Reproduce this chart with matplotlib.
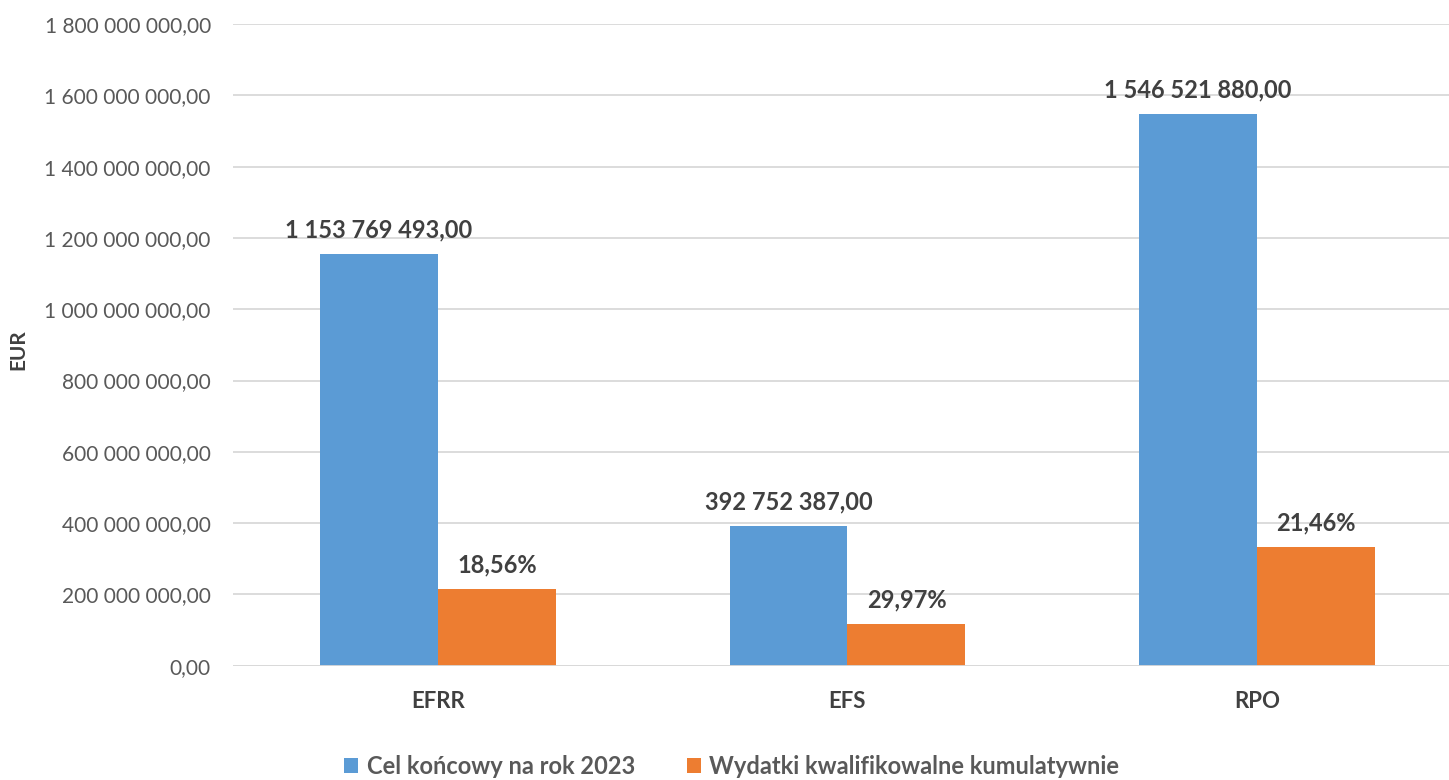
import matplotlib
matplotlib.use("Agg")
import matplotlib.pyplot as plt
import numpy as np

categories = ["EFRR", "EFS", "RPO"]
target_2023 = [1153769493.00, 392752387.00, 1546521880.00]
expenditure = [214000000, 117700000, 331900000]
pct_labels = ["18,56%", "29,97%", "21,46%"]
series_names = ["Cel końcowy na rok 2023", "Wydatki kwalifikowalne kumulatywnie"]
yticks = [0, 200e6, 400e6, 600e6, 800e6, 1000e6, 1200e6, 1400e6, 1600e6, 1800e6]

plt.rcParams['font.family'] = ['Lato', 'DejaVu Sans']

blue = "#5B9BD5"
orange = "#ED7D31"
txt = "#595959"
lbl = "#404040"

def fmt_num(v):
    s = f"{v:,.2f}"
    s = s.replace(",", " ").replace(".", ",")
    return s

W, H = 1449, 780
fig = plt.figure(figsize=(W/100, H/100), dpi=100)
x0, x1 = 233, 1462
ytop, ybot = 24, 665.7
ax = fig.add_axes([x0/W, 1 - ybot/H, (x1-x0)/W, (ybot-ytop)/H])

x = np.arange(len(categories))
bw = 0.288
b1 = ax.bar(x - bw/2, target_2023, bw, color=blue, label=series_names[0], zorder=3)
b2 = ax.bar(x + bw/2, expenditure, bw, color=orange, label=series_names[1], zorder=3)

ax.set_xlim(-0.5, 2.5)
ax.set_ylim(0, 1800e6)
ax.set_yticks(yticks)
ax.set_yticklabels([fmt_num(v) for v in yticks], color=txt, fontsize=15)
ax.set_xticks(x)
ax.set_xticklabels(categories, color=lbl, fontsize=16, fontweight='bold')
ax.tick_params(axis='both', length=0)
ax.tick_params(axis='y', pad=16)
ax.tick_params(axis='x', pad=18)
ax.grid(axis='y', color='#D9D9D9', linewidth=1.3, zorder=0)
for s in ax.spines.values():
    s.set_visible(False)
ax.axhline(0, color='#D9D9D9', linewidth=1.3, zorder=4)

for xi, v in zip(x, target_2023):
    ax.annotate(fmt_num(v), (xi - bw/2, v), xytext=(0, 9), textcoords='offset points',
                ha='center', va='bottom', fontsize=17, fontweight='bold', color=lbl)
for xi, v, t in zip(x, expenditure, pct_labels):
    ax.annotate(t, (xi + bw/2, v), xytext=(0, 9), textcoords='offset points',
                ha='center', va='bottom', fontsize=17, fontweight='bold', color=lbl)

fig.text(18/W, 1 - 350/H, "EUR", rotation=90, ha='center', va='center',
         fontsize=15, fontweight='bold', color=lbl)

leg = fig.legend(handles=[b1, b2], loc='center', bbox_to_anchor=(0.505, 1 - 766/H),
                 ncol=2, frameon=False, handlelength=0.6, handleheight=0.6,
                 handletextpad=0.35, columnspacing=2.2,
                 prop={'size': 17, 'weight': 'bold'})
for t in leg.get_texts():
    t.set_color(txt)

fig.savefig("out.png", dpi=100)
